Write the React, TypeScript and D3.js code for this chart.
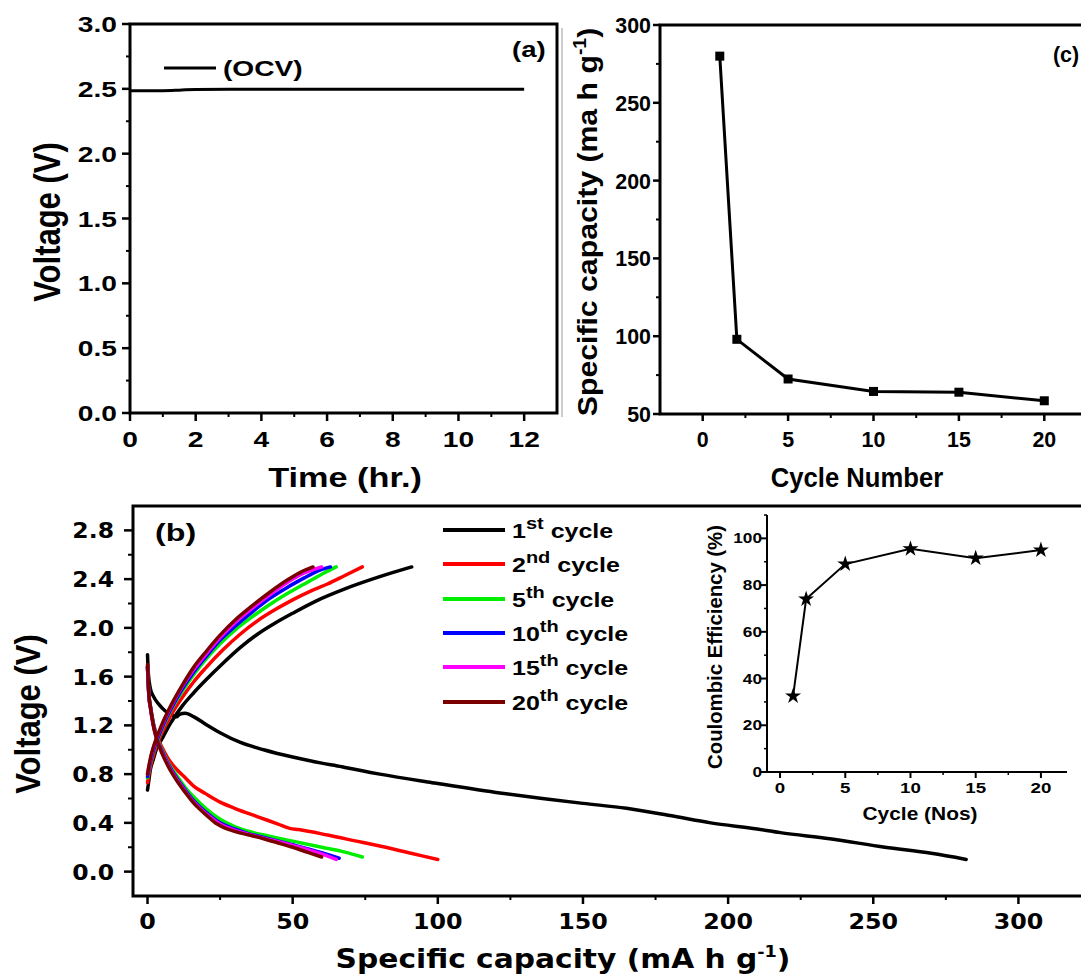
import React from 'react';
import * as d3 from 'd3';

const W = 1081;
const H = 974;
const FONT = "'Liberation Sans', Arial, Helvetica, sans-serif";
const WIDE = "'DejaVu Sans', Verdana, sans-serif";

// ---------- Panel (a): OCV ----------
const ocvTime = [0, 0.5, 1, 1.5, 2, 3, 4, 6, 8, 10, 12];
const ocvVolt = [2.485, 2.485, 2.486, 2.49, 2.495, 2.496, 2.497, 2.497, 2.497, 2.497, 2.497];
const aXTicks = [0, 2, 4, 6, 8, 10, 12];
const aXMinor = [1, 3, 5, 7, 9, 11];
const aYTicks = [0, 0.5, 1, 1.5, 2, 2.5, 3];
const aYMinor = [0.25, 0.75, 1.25, 1.75, 2.25, 2.75];

// ---------- Panel (c): capacity vs cycle ----------
const cycles = [1, 2, 5, 10, 15, 20];
const capacity = [280, 98, 72.5, 64.5, 64, 58.5];
const cXTicks = [0, 5, 10, 15, 20];
const cXMinor = [2.5, 7.5, 12.5, 17.5];
const cYTicks = [50, 100, 150, 200, 250, 300];
const cYMinor = [75, 125, 175, 225, 275];

// ---------- Inset: coulombic efficiency ----------
const efficiency = [32.5, 74, 89, 95.5, 91.5, 95];
const iXTicks = [0, 5, 10, 15, 20];
const iXMinor = [2.5, 7.5, 12.5, 17.5];
const iYTicks = [0, 20, 40, 60, 80, 100];
const iYMinor = [10, 30, 50, 70, 90, 110];

// ---------- Panel (b): charge / discharge ----------
const c1Dis: [number, number][] = [[0, 1.78], [0.3, 1.62], [1, 1.5], [2, 1.44], [4, 1.37], [6, 1.32], [8, 1.29], [10, 1.27], [11, 1.29], [13, 1.3], [16, 1.27], [20, 1.21], [25, 1.14], [32, 1.06], [40, 1.0], [50, 0.94], [60, 0.89], [67, 0.86], [69, 0.85], [80, 0.8], [98, 0.73], [120, 0.65], [136, 0.6], [150, 0.56], [165, 0.52], [180, 0.46], [194, 0.4], [210, 0.35], [218, 0.32], [235, 0.27], [254, 0.2], [270, 0.15], [282, 0.1]];
const c1Chg: [number, number][] = [[0, 0.67], [0.3, 0.72], [1, 0.84], [2, 0.92], [3, 1.0], [5, 1.09], [8, 1.22], [12, 1.36], [16, 1.47], [20, 1.57], [26, 1.71], [32, 1.84], [38, 1.95], [44, 2.04], [50, 2.12], [58, 2.22], [68, 2.32], [80, 2.42], [91, 2.5]];
const c2Dis: [number, number][] = [[0, 1.68], [0.5, 1.45], [1, 1.36], [2, 1.22], [3, 1.13], [5, 1.02], [7, 0.93], [10, 0.84], [13, 0.77], [16, 0.7], [20, 0.64], [25, 0.57], [30, 0.52], [38, 0.45], [45, 0.39], [49, 0.355], [52, 0.345], [62, 0.3], [72, 0.25], [80, 0.21], [90, 0.155], [100, 0.1]];
const c2Chg: [number, number][] = [[0, 0.73], [0.5, 0.8], [1, 0.86], [2, 0.95], [3, 1.03], [5, 1.14], [8, 1.28], [12, 1.43], [16, 1.56], [20, 1.67], [26, 1.82], [32, 1.95], [38, 2.06], [44, 2.15], [50, 2.23], [56, 2.3], [62, 2.36], [68, 2.43], [74, 2.5]];
const c5Dis: [number, number][] = [[0, 1.68], [0.5, 1.45], [1, 1.36], [2, 1.22], [3, 1.12], [5, 1.0], [7, 0.9], [10, 0.79], [13, 0.69], [16, 0.61], [20, 0.52], [25, 0.43], [30, 0.37], [35, 0.33], [40, 0.3], [50, 0.25], [60, 0.2], [68, 0.16], [74, 0.12]];
const c5Chg: [number, number][] = [[0, 0.77], [0.5, 0.83], [1, 0.89], [2, 0.98], [3, 1.05], [5, 1.17], [8, 1.32], [12, 1.48], [16, 1.62], [20, 1.74], [25, 1.87], [30, 1.98], [36, 2.09], [42, 2.19], [48, 2.28], [54, 2.36], [60, 2.44], [65, 2.5]];
const c10Dis: [number, number][] = [[0, 1.68], [0.5, 1.44], [1, 1.35], [2, 1.21], [3, 1.11], [5, 0.99], [7, 0.89], [10, 0.77], [13, 0.67], [16, 0.58], [20, 0.49], [25, 0.4], [30, 0.35], [35, 0.31], [40, 0.28], [50, 0.22], [60, 0.155], [66, 0.11]];
const c10Chg: [number, number][] = [[0, 0.78], [0.5, 0.84], [1, 0.9], [2, 0.99], [3, 1.06], [5, 1.18], [8, 1.33], [12, 1.5], [16, 1.64], [20, 1.76], [25, 1.9], [30, 2.01], [36, 2.13], [42, 2.24], [48, 2.33], [54, 2.41], [58, 2.46], [63, 2.5]];
const c15Dis: [number, number][] = [[0, 1.68], [0.5, 1.43], [1, 1.34], [2, 1.2], [3, 1.1], [5, 0.98], [7, 0.88], [10, 0.76], [13, 0.66], [16, 0.57], [20, 0.48], [25, 0.39], [30, 0.34], [35, 0.305], [40, 0.275], [50, 0.215], [60, 0.145], [65, 0.1]];
const c15Chg: [number, number][] = [[0, 0.8], [0.5, 0.86], [1, 0.92], [2, 1.01], [3, 1.08], [5, 1.2], [8, 1.35], [12, 1.52], [16, 1.66], [20, 1.78], [25, 1.92], [30, 2.04], [36, 2.16], [42, 2.27], [48, 2.37], [54, 2.45], [60, 2.5]];
const c20Dis: [number, number][] = [[0, 1.7], [0.5, 1.44], [1, 1.35], [2, 1.2], [3, 1.1], [5, 0.97], [7, 0.87], [10, 0.75], [13, 0.65], [16, 0.56], [20, 0.47], [24, 0.39], [26, 0.365], [30, 0.33], [35, 0.3], [40, 0.27], [45, 0.235], [50, 0.2], [55, 0.16], [60, 0.12]];
const c20Chg: [number, number][] = [[0, 0.8], [0.5, 0.87], [1, 0.93], [2, 1.02], [3, 1.09], [5, 1.21], [8, 1.36], [12, 1.53], [16, 1.68], [20, 1.8], [25, 1.94], [30, 2.06], [36, 2.18], [42, 2.29], [48, 2.39], [53, 2.46], [57, 2.5]];

const seriesNames = ['1', '2', '5', '10', '15', '20'];
const seriesSup = ['st', 'nd', 'th', 'th', 'th', 'th'];
const seriesColors = ['#000000', '#ff0000', '#00ee00', '#0000ff', '#ff00ff', '#7a0000'];
const seriesDischarge = [c1Dis, c2Dis, c5Dis, c10Dis, c15Dis, c20Dis];
const seriesCharge = [c1Chg, c2Chg, c5Chg, c10Chg, c15Chg, c20Chg];
const bXTicks = [0, 50, 100, 150, 200, 250, 300];
const bXMinor = [25, 75, 125, 175, 225, 275];
const bYTicks = [0, 0.4, 0.8, 1.2, 1.6, 2.0, 2.4, 2.8];
const bYMinor = [0.2, 0.6, 1.0, 1.4, 1.8, 2.2, 2.6];

type TxtProps = {
  x: number; y: number; size: number; sx?: number; sy?: number; rot?: number;
  anchor?: string; family?: string; children?: React.ReactNode;
};
function Txt({ x, y, size, sx = 1, sy = 1, rot = 0, anchor = 'middle', family = FONT, children }: TxtProps) {
  return (
    <text
      transform={`translate(${x},${y}) rotate(${rot}) scale(${sx},${sy})`}
      fontSize={size}
      fontFamily={family}
      fontWeight="bold"
      textAnchor={anchor as any}
      fill="#000"
    >
      {children}
    </text>
  );
}

function fmt1(v: number) {
  return v.toFixed(1);
}

export default function App() {
  const xa = d3.scaleLinear().domain([0, 13]).range([130, 557]);
  const ya = d3.scaleLinear().domain([0, 3]).range([413, 24]);
  const xc = d3.scaleLinear().domain([-2.5, 22.5]).range([660, 1087]);
  const yc = d3.scaleLinear().domain([50, 300]).range([414, 25]);
  const xb = d3.scaleLinear().domain([-5, 325]).range([133, 1091]);
  const yb = d3.scaleLinear().domain([-0.2, 3.0]).range([896, 506]);
  const xi = d3.scaleLinear().domain([-1, 22]).range([767, 1067]);
  const yi = d3.scaleLinear().domain([0, 110]).range([772, 515]);

  const lineA = d3.line<number>().x((_, i) => xa(ocvTime[i])).y((d) => ya(d)).curve(d3.curveMonotoneX);
  const lineC = d3.line<number>().x((_, i) => xc(cycles[i])).y((d) => yc(d));
  const lineI = d3.line<number>().x((_, i) => xi(cycles[i])).y((d) => yi(d));
  const lineB = d3.line<[number, number]>().x((d) => xb(d[0])).y((d) => yb(d[1])).curve(d3.curveMonotoneX);
  const star = d3.symbol().type(d3.symbolStar).size(80)();

  const legendRows = [530, 564, 599, 633, 667, 702];

  return (
    <svg width={W} height={H} style={{ position: 'absolute', left: 0, top: 0, background: '#fff' }}>
      <rect x={0} y={0} width={W} height={H} fill="#fff" />

      {/* ================= Panel (a) ================= */}
      <g>
        <rect x={xa(0)} y={ya(3)} width={xa(13) - xa(0)} height={ya(0) - ya(3)} fill="none" stroke="#000" strokeWidth={3} />
        {aYTicks.map((v) => (
          <g key={'ay' + v}>
            <line x1={xa(0)} x2={xa(0) - 8} y1={ya(v)} y2={ya(v)} stroke="#000" strokeWidth={2.5} />
            <Txt x={117} y={ya(v) + 8} size={22} sx={1.28} anchor="end">{fmt1(v)}</Txt>
          </g>
        ))}
        {aYMinor.map((v) => (
          <line key={'aym' + v} x1={xa(0)} x2={xa(0) - 4} y1={ya(v)} y2={ya(v)} stroke="#000" strokeWidth={2} />
        ))}
        {aXTicks.map((v) => (
          <g key={'ax' + v}>
            <line x1={xa(v)} x2={xa(v)} y1={ya(0)} y2={ya(0) + 8} stroke="#000" strokeWidth={2.5} />
            <Txt x={xa(v)} y={447} size={22} sx={1.28}>{String(v)}</Txt>
          </g>
        ))}
        {aXMinor.map((v) => (
          <line key={'axm' + v} x1={xa(v)} x2={xa(v)} y1={ya(0)} y2={ya(0) + 4} stroke="#000" strokeWidth={2} />
        ))}
        <path d={lineA(ocvVolt) || ''} fill="none" stroke="#000" strokeWidth={3} />
        <line x1={164} x2={216} y1={68} y2={68} stroke="#000" strokeWidth={3} />
        <Txt x={223} y={76} size={22} sx={1.28} anchor="start">(OCV)</Txt>
        <Txt x={512} y={57} size={22} sx={1.25} anchor="start">(a)</Txt>
        <Txt x={345} y={487} size={27} sx={1.27}>Time (hr.)</Txt>
        <Txt x={60} y={222} size={31} sy={1.2} rot={-90}>Voltage (V)</Txt>
      </g>

      {/* ================= Panel (c) ================= */}
      <g>
        <line x1={562} x2={562} y1={28} y2={417} stroke="#999" strokeWidth={1} />
        <rect x={xc(-2.5)} y={yc(300)} width={xc(22.5) - xc(-2.5)} height={yc(50) - yc(300)} fill="none" stroke="#000" strokeWidth={3} />
        {cYTicks.map((v) => (
          <g key={'cy' + v}>
            <line x1={xc(-2.5)} x2={xc(-2.5) - 7} y1={yc(v)} y2={yc(v)} stroke="#000" strokeWidth={2.5} />
            <Txt x={651} y={yc(v) + 8} size={23} sx={0.93} anchor="end">{String(v)}</Txt>
          </g>
        ))}
        {cYMinor.map((v) => (
          <line key={'cym' + v} x1={xc(-2.5)} x2={xc(-2.5) - 4} y1={yc(v)} y2={yc(v)} stroke="#000" strokeWidth={2} />
        ))}
        {cXTicks.map((v) => (
          <g key={'cx' + v}>
            <line x1={xc(v)} x2={xc(v)} y1={yc(50)} y2={yc(50) + 7} stroke="#000" strokeWidth={2.5} />
            <Txt x={xc(v)} y={447} size={23} sx={0.93}>{String(v)}</Txt>
          </g>
        ))}
        {cXMinor.map((v) => (
          <line key={'cxm' + v} x1={xc(v)} x2={xc(v)} y1={yc(50)} y2={yc(50) + 4} stroke="#000" strokeWidth={2} />
        ))}
        <path d={lineC(capacity) || ''} fill="none" stroke="#000" strokeWidth={3} />
        {capacity.map((v, i) => (
          <rect key={'cs' + i} x={xc(cycles[i]) - 4.5} y={yc(v) - 4.5} width={9} height={9} fill="#000" />
        ))}
        <Txt x={1053} y={62} size={23} sx={0.93} anchor="start">(c)</Txt>
        <Txt x={857} y={487} size={27} sx={0.95}>Cycle Number</Txt>
        <Txt x={597} y={222} size={28} sx={1.08} rot={-90}>
          <tspan>Specific capacity (ma h g</tspan>
          <tspan dy={-11} fontSize={18}>-1</tspan>
          <tspan dy={11}>)</tspan>
        </Txt>
      </g>

      {/* ================= Panel (b) ================= */}
      <g>
        <rect x={xb(-5)} y={yb(3.0)} width={xb(325) - xb(-5)} height={yb(-0.2) - yb(3.0)} fill="none" stroke="#000" strokeWidth={3} />
        {bYTicks.map((v) => (
          <g key={'by' + v}>
            <line x1={xb(-5)} x2={xb(-5) - 9} y1={yb(v)} y2={yb(v)} stroke="#000" strokeWidth={2.5} />
            <Txt x={114} y={yb(v) + 8} size={21} sx={1.12} anchor="end" family={WIDE}>{fmt1(v)}</Txt>
          </g>
        ))}
        {bYMinor.map((v) => (
          <line key={'bym' + v} x1={xb(-5)} x2={xb(-5) - 5} y1={yb(v)} y2={yb(v)} stroke="#000" strokeWidth={2} />
        ))}
        {bXTicks.map((v) => (
          <g key={'bx' + v}>
            <line x1={xb(v)} x2={xb(v)} y1={yb(-0.2)} y2={yb(-0.2) + 8} stroke="#000" strokeWidth={2.5} />
            <Txt x={xb(v)} y={929} size={22} sx={1.08} family={WIDE}>{String(v)}</Txt>
          </g>
        ))}
        {bXMinor.map((v) => (
          <line key={'bxm' + v} x1={xb(v)} x2={xb(v)} y1={yb(-0.2)} y2={yb(-0.2) + 4} stroke="#000" strokeWidth={2} />
        ))}
        {seriesNames.map((n, i) => (
          <g key={'bs' + n}>
            <path d={lineB(seriesDischarge[i]) || ''} fill="none" stroke={seriesColors[i]} strokeWidth={3.5} strokeLinecap="round" />
            <path d={lineB(seriesCharge[i]) || ''} fill="none" stroke={seriesColors[i]} strokeWidth={3.5} strokeLinecap="round" />
          </g>
        ))}
        {seriesNames.map((n, i) => (
          <g key={'bl' + n}>
            <line x1={443} x2={505} y1={legendRows[i]} y2={legendRows[i]} stroke={seriesColors[i]} strokeWidth={4} />
            <Txt x={512} y={legendRows[i] + 8} size={20} sx={1.25} anchor="start">
              <tspan>{n}</tspan>
              <tspan dy={-9} fontSize={16}>{seriesSup[i]}</tspan>
              <tspan dy={9}>{'\u00a0cycle'}</tspan>
            </Txt>
          </g>
        ))}
        <Txt x={155} y={541} size={23} sx={1.4} anchor="start">(b)</Txt>
        <Txt x={563} y={968} size={27} sx={1.1} family={WIDE}>
          <tspan>Specific capacity (mA h g</tspan>
          <tspan dy={-11} fontSize={16}>-1</tspan>
          <tspan dy={11}>)</tspan>
        </Txt>
        <Txt x={40} y={714} size={31} sy={1.15} rot={-90}>Voltage (V)</Txt>
      </g>

      {/* ================= Inset ================= */}
      <g>
        <line x1={xi(-1)} x2={xi(-1)} y1={yi(0)} y2={yi(110)} stroke="#000" strokeWidth={2} />
        <line x1={xi(-1)} x2={xi(22)} y1={yi(0)} y2={yi(0)} stroke="#000" strokeWidth={2} />
        {iYTicks.map((v) => (
          <g key={'iy' + v}>
            <line x1={xi(-1)} x2={xi(-1) - 6} y1={yi(v)} y2={yi(v)} stroke="#000" strokeWidth={2} />
            <Txt x={762} y={yi(v) + 5} size={15} sx={1.15} anchor="end">{String(v)}</Txt>
          </g>
        ))}
        {iYMinor.map((v) => (
          <line key={'iym' + v} x1={xi(-1)} x2={xi(-1) - 3} y1={yi(v)} y2={yi(v)} stroke="#000" strokeWidth={1.5} />
        ))}
        {iXTicks.map((v) => (
          <g key={'ix' + v}>
            <line x1={xi(v)} x2={xi(v)} y1={yi(0)} y2={yi(0) + 6} stroke="#000" strokeWidth={2} />
            <Txt x={xi(v)} y={793} size={15} sx={1.25}>{String(v)}</Txt>
          </g>
        ))}
        {iXMinor.map((v) => (
          <line key={'ixm' + v} x1={xi(v)} x2={xi(v)} y1={yi(0)} y2={yi(0) + 3} stroke="#000" strokeWidth={1.5} />
        ))}
        <path d={lineI(efficiency) || ''} fill="none" stroke="#000" strokeWidth={2} />
        {efficiency.map((v, i) => (
          <path key={'is' + i} d={star || ''} transform={`translate(${xi(cycles[i])},${yi(v)})`} fill="#000" />
        ))}
        <Txt x={920} y={820} size={19} sx={1.1}>Cycle (Nos)</Txt>
        <Txt x={722} y={647} size={19} sx={1.07} sy={1.1} rot={-90}>Coulombic Efficiency (%)</Txt>
      </g>
    </svg>
  );
}
